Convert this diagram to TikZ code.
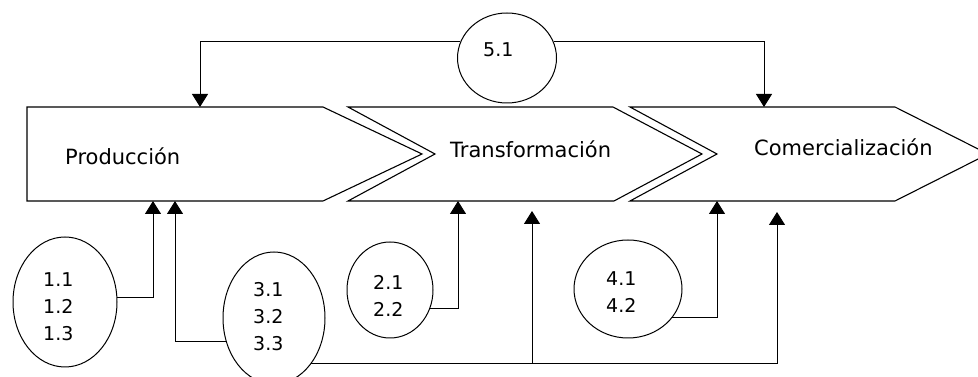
\documentclass[tikz,border=0pt]{standalone}
\usepackage{fontspec}
\setmainfont{DejaVu Sans}
\usetikzlibrary{shapes.geometric,arrows.meta}
\begin{document}
\begin{tikzpicture}[x=1pt,y=1pt,
  shapeline/.style={draw=black,line width=1.1pt,line join=miter},
  oval/.style={ellipse,draw=black,line width=1pt,inner sep=0pt},
  conn/.style={draw=black,line width=1pt,-{Triangle[length=13pt,width=16pt]}},
  lbl/.style={font=\fontsize{21}{25}\selectfont,inner sep=0pt},
  num/.style={font=\fontsize{19}{27}\selectfont,inner sep=0pt,align=left}]
\useasboundingbox (0,0) rectangle (978,377);
\fill[white] (0,0) rectangle (978,377);
% chevrons
\draw[shapeline] (27,270) -- (323,270) -- (422,223) -- (323,176) -- (27,176) -- cycle;
\draw[shapeline] (348,270) -- (613,270) -- (702,223) -- (614,176) -- (348,176) -- (435,223) -- cycle;
\draw[shapeline] (630,270) -- (895,270) -- (988,223) -- (895,176) -- (630,176) -- (717,223) -- cycle;
\node[lbl,anchor=base west] (prod) at (65,212) {Producción};
\node[lbl,anchor=base west] (trans) at (450,219) {Transformación};
\node[lbl,anchor=base west] (comer) at (754,221) {Comercialización};
% targets on chevrons
\coordinate (pTop) at (200,270);
\coordinate (cTop) at (764,270);
\coordinate (p1) at (153,176);
\coordinate (p3) at (175,176);
\coordinate (p2) at (458,176);
\coordinate (p4) at (717,176);
\coordinate (tB) at (532,166);
\coordinate (cB) at (777,165);
% ellipses
\node[oval,minimum width=99pt,minimum height=90pt] (e5) at (507,319) {};
\node[oval,minimum width=104pt,minimum height=130pt] (e1) at (65,75) {};
\node[oval,minimum width=102pt,minimum height=132pt] (e3) at (274,59) {};
\node[oval,minimum width=86pt,minimum height=96pt] (e2) at (390,87) {};
\node[oval,minimum width=108pt,minimum height=98pt] (e4) at (628,88) {};
% texts
\node[num,anchor=base west] (t5) at (483,320) {5.1};
\node[num,anchor=west] (t1) at (43,70) {1.1\\1.2\\1.3};
\node[num,anchor=west] (t3) at (253,60.5) {3.1\\3.2\\3.3};
\node[num,anchor=west] (t2) at (373,81.5) {2.1\\2.2};
\node[num,anchor=west] (t4) at (606,84.5) {4.1\\4.2};
% connectors
\draw[conn] (e5.161) -| (pTop);
\draw[conn] (e5.19) -| (cTop);
\draw[conn] (e1.5.5) -| (p1);
\draw[conn] (e3.206.8) -| (p3);
\draw[conn] (e2.335.7) -| (p2);
\draw[conn] (e4.327.7) -| (p4);
\draw[conn] (e3.309.7) -| (cB);
\draw[conn] (tB |- e3.309.7) -- (tB);
\end{tikzpicture}
\end{document}
